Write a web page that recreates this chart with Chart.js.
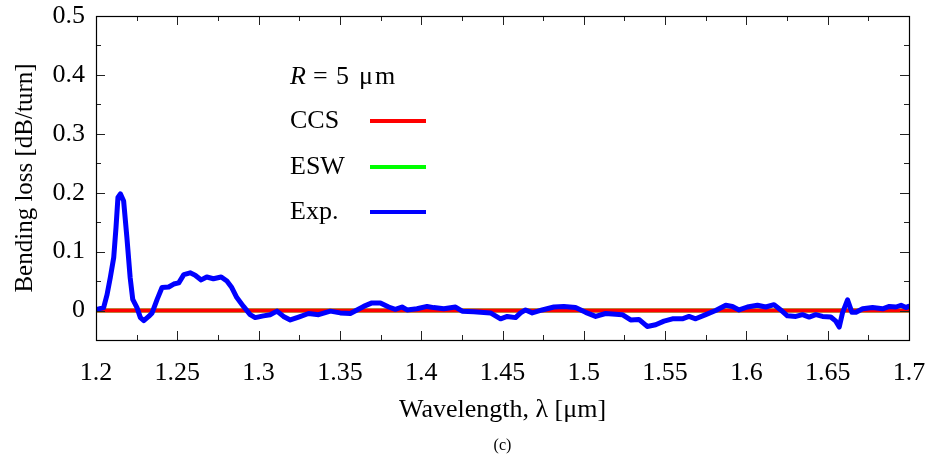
<!DOCTYPE html>
<html>
<head>
<meta charset="utf-8">
<script src="https://cdn.jsdelivr.net/npm/chart.js@4.4.1/dist/chart.umd.min.js"></script>
<style>
  html, body { margin: 0; padding: 0; background: #fff; }
  canvas { display: block; }
</style>
</head>
<body>
<canvas id="lossChart" width="930" height="464"></canvas>
<script>
// --- Data ---
const wavelength = [
  1.2006, 1.2047, 1.2068, 1.2088, 1.2109, 1.2123, 1.2135, 1.2150, 1.2170, 1.2190,
  1.2210, 1.2226, 1.2252, 1.2273, 1.2294, 1.2324, 1.2345, 1.2376, 1.2406, 1.2447,
  1.2478, 1.2509, 1.2540, 1.2579, 1.2610, 1.2647, 1.2681, 1.2722, 1.2770, 1.2805,
  1.2835, 1.2866, 1.2907, 1.2948, 1.2979, 1.3030, 1.3071, 1.3113, 1.3153, 1.3195,
  1.3246, 1.3307, 1.3369, 1.3441, 1.3502, 1.3564, 1.3605, 1.3646, 1.3697, 1.3749,
  1.3800, 1.3841, 1.3882, 1.3913, 1.3974, 1.4036, 1.4077, 1.4139, 1.4211, 1.4252,
  1.4323, 1.4426, 1.4488, 1.4529, 1.4580, 1.4611, 1.4642, 1.4683, 1.4744, 1.4816,
  1.4877, 1.4949, 1.5011, 1.5073, 1.5134, 1.5237, 1.5288, 1.5339, 1.5390, 1.5442,
  1.5493, 1.5545, 1.5606, 1.5647, 1.5688, 1.5750, 1.5811, 1.5873, 1.5914, 1.5955,
  1.6006, 1.6068, 1.6119, 1.6170, 1.6211, 1.6252, 1.6304, 1.6345, 1.6386, 1.6427,
  1.6468, 1.6519, 1.6550, 1.6571, 1.6591, 1.6622, 1.6649, 1.6674, 1.6715, 1.6776,
  1.6838, 1.6879, 1.6920, 1.6951, 1.6981, 1.6998
];
const expLoss = [
  0.002, 0.005, 0.027, 0.056, 0.090, 0.141, 0.192, 0.198, 0.186, 0.124,
  0.056, 0.019, 0.005, -0.012, -0.017, -0.010, -0.004, 0.019, 0.039, 0.040,
  0.045, 0.047, 0.061, 0.064, 0.060, 0.052, 0.057, 0.054, 0.057, 0.050,
  0.039, 0.022, 0.007, -0.007, -0.012, -0.009, -0.007, -0.001, -0.010, -0.016,
  -0.011, -0.005, -0.007, -0.001, -0.004, -0.005, 0.001, 0.007, 0.013, 0.013,
  0.006, 0.002, 0.006, 0.001, 0.003, 0.007, 0.005, 0.003, 0.006, -0.001,
  -0.002, -0.004, -0.014, -0.010, -0.012, -0.004, 0.001, -0.004, 0.001, 0.006,
  0.007, 0.005, -0.003, -0.010, -0.005, -0.007, -0.016, -0.015, -0.027, -0.024,
  -0.018, -0.014, -0.014, -0.010, -0.014, -0.007, 0.000, 0.009, 0.007, 0.001,
  0.006, 0.009, 0.006, 0.010, 0.001, -0.009, -0.010, -0.007, -0.011, -0.007,
  -0.010, -0.011, -0.018, -0.028, -0.004, 0.018, -0.003, -0.003, 0.003, 0.005,
  0.003, 0.007, 0.006, 0.009, 0.005, 0.007
];
// CCS and ESW models give (practically) zero loss over the whole band
const modelWavelength = [1.2, 1.7];
const ccsLoss = [0, 0];
const eswLoss = [0, 0];

const xTicks = [1.2, 1.25, 1.3, 1.35, 1.4, 1.45, 1.5, 1.55, 1.6, 1.65, 1.7];
const xMinorTicks = [1.225, 1.275, 1.325, 1.375, 1.425, 1.475, 1.525, 1.575, 1.625, 1.675];
const yTicks = [0, 0.1, 0.2, 0.3, 0.4, 0.5];
const yMinorTicks = [0.05, 0.15, 0.25, 0.35, 0.45];

const FONT = "'Liberation Serif', 'Times New Roman', serif";

const toPoints = (xs, ys) => xs.map((x, i) => ({ x: x, y: ys[i] }));

// frame with inward ticks on all four sides, plus the in-plot key
const framePlugin = {
  id: 'frame',
  afterDatasetsDraw(chart) {
    const { ctx, chartArea: a, scales: { x, y } } = chart;
    ctx.save();
    ctx.strokeStyle = '#222';
    ctx.lineWidth = 1;
    ctx.beginPath();
    const xTick = (v, len) => {
      const px = Math.round(x.getPixelForValue(v)) + 0.5;
      ctx.moveTo(px, a.bottom); ctx.lineTo(px, a.bottom - len);
      ctx.moveTo(px, a.top); ctx.lineTo(px, a.top + len);
    };
    const yTick = (v, len) => {
      const py = Math.round(y.getPixelForValue(v)) + 0.5;
      ctx.moveTo(a.left, py); ctx.lineTo(a.left + len, py);
      ctx.moveTo(a.right, py); ctx.lineTo(a.right - len, py);
    };
    xTicks.forEach(v => xTick(v, 9));
    xMinorTicks.forEach(v => xTick(v, 5));
    yTicks.forEach(v => yTick(v, 9));
    yMinorTicks.forEach(v => yTick(v, 5));
    ctx.stroke();

    ctx.strokeStyle = '#000';
    ctx.lineWidth = 1.2;
    ctx.strokeRect(Math.round(a.left) + 0.5, Math.round(a.top) + 0.5,
      Math.round(a.right - a.left), Math.round(a.bottom - a.top));

    // key
    ctx.fillStyle = '#000';
    ctx.textBaseline = 'middle';
    ctx.textAlign = 'left';
    ctx.font = 'italic 26px ' + FONT;
    ctx.fillText('R', 290, 77);
    ctx.font = '26px ' + FONT;
    ctx.fillText('=', 313, 77);
    ctx.fillText('5', 336, 77);
    ctx.fillText('\u03bc', 359, 77);
    ctx.fillText('m', 375, 77);

    const kx = 290;
    const rows = [['CCS', '#ff0000', 121], ['ESW', '#00ff00', 167], ['Exp.', '#0000ff', 212]];
    rows.forEach(([label, color, ry]) => {
      ctx.fillText(label, kx, ry);
      ctx.strokeStyle = color;
      ctx.lineWidth = 4;
      ctx.beginPath();
      ctx.moveTo(370, ry);
      ctx.lineTo(426, ry);
      ctx.stroke();
    });

    // panel label
    ctx.font = '16px ' + FONT;
    ctx.textAlign = 'center';
    ctx.fillText('(c)', (a.left + a.right) / 2, 446);
    ctx.restore();
  }
};

new Chart(document.getElementById('lossChart'), {
  type: 'line',
  data: {
    datasets: [
      {
        label: 'ESW',
        data: toPoints(modelWavelength, eswLoss),
        borderColor: '#00ff00',
        borderWidth: 4,
        order: 3
      },
      {
        label: 'CCS',
        data: toPoints(modelWavelength, ccsLoss),
        borderColor: '#ff0000',
        borderWidth: 4,
        order: 2
      },
      {
        label: 'Exp.',
        data: toPoints(wavelength, expLoss),
        borderColor: '#0000ff',
        borderWidth: 5,
        order: 1
      }
    ]
  },
  options: {
    responsive: false,
    animation: false,
    layout: { padding: { top: 16, right: 21, left: 0, bottom: 0 } },
    elements: {
      point: { radius: 0 },
      line: { tension: 0, borderJoinStyle: 'round', borderCapStyle: 'round' }
    },
    plugins: {
      legend: { display: false },
      tooltip: { enabled: false }
    },
    scales: {
      x: {
        type: 'linear',
        min: 1.2,
        max: 1.7,
        afterBuildTicks: s => { s.ticks = xTicks.map(v => ({ value: v })); },
        afterFit: s => { s.height = 124; s.paddingLeft = 0; s.paddingRight = 0; },
        grid: { display: false, drawTicks: false },
        border: { display: false },
        ticks: {
          padding: 18,
          maxRotation: 0,
          color: '#000',
          font: { family: FONT, size: 26 },
          callback: v => String(+v.toFixed(2))
        },
        title: {
          display: true,
          text: 'Wavelength, \u03bb [\u03bcm]',
          color: '#000',
          font: { family: FONT, size: 26 },
          padding: { top: 0, bottom: 38 }
        }
      },
      y: {
        min: -0.05,
        max: 0.5,
        afterBuildTicks: s => { s.ticks = yTicks.map(v => ({ value: v })); },
        afterFit: s => { s.width = 96; s.paddingTop = 0; s.paddingBottom = 0; },
        grid: { display: false, drawTicks: false },
        border: { display: false },
        ticks: {
          padding: 11,
          color: '#000',
          font: { family: FONT, size: 26 },
          callback: v => String(+v.toFixed(1))
        },
        title: {
          display: true,
          text: 'Bending loss [dB/turn]',
          color: '#000',
          font: { family: FONT, size: 25 },
          padding: { top: 10, bottom: 0 }
        }
      }
    }
  },
  plugins: [framePlugin]
});
</script>
</body>
</html>
